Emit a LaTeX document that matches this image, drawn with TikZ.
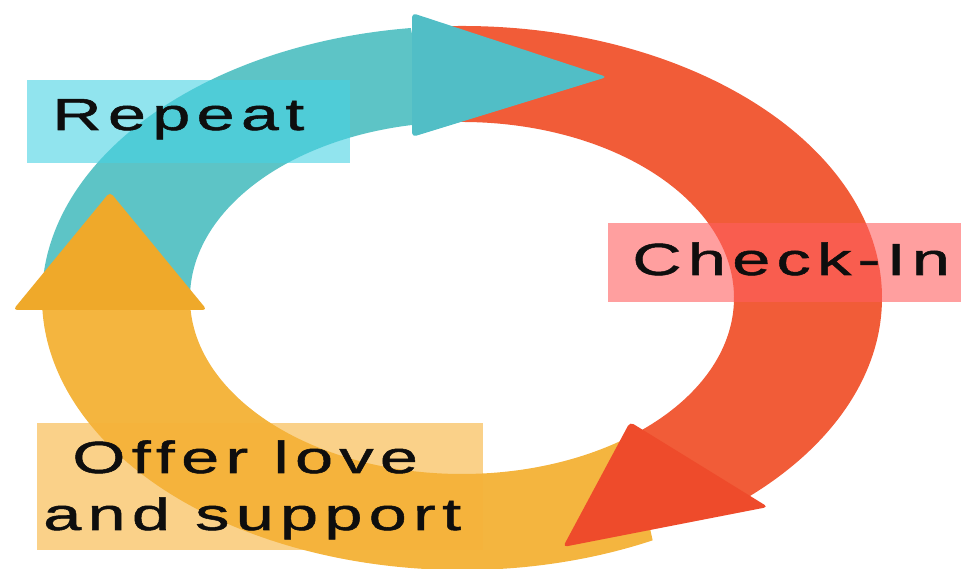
\documentclass[tikz,border=0pt]{standalone}
\usepackage{fontspec}
\newfontfamily\lblfont[FakeStretch=1.52,LetterSpace=14,FakeBold=1.2]{Liberation Sans}

\definecolor{tealbody}{HTML}{5DC4C6}
\definecolor{tealhead}{HTML}{51BEC6}
\definecolor{redbody}{HTML}{F15C38}
\definecolor{redhead}{HTML}{EE4B2B}
\definecolor{yelbody}{HTML}{F4B53F}
\definecolor{yelhead}{HTML}{EFA92A}
\definecolor{repeatbox}{RGB}{71,210,227}
\definecolor{checkbox}{RGB}{255,95,95}
\definecolor{offerbox}{RGB}{246,178,58}
\definecolor{inktext}{HTML}{0E0E0E}

\begin{document}
\begin{tikzpicture}[x=0.025cm,y=0.025cm,
  head/.style={rounded corners=3pt},
  labelbox/.style={fill opacity=0.6},
  labeltext/.style={inner sep=0pt,anchor=base west,text=inktext,
    font=\lblfont\fontsize{32}{38}\selectfont}]
\useasboundingbox (0,0) rectangle (961,569);

% ring geometry: centre and elliptical radii (outer / inner)
\coordinate (c) at (462,271);
\def\ox{420}\def\oy{272}\def\ix{272}\def\iy{176}

% ring bodies
\fill[tealbody] ([shift={(180:\ox*1 and \oy*1)}]c)
  arc[start angle=180,end angle=97,x radius=\ox,y radius=\oy]
  -- ([shift={(97:\ix*1 and \iy*1)}]c)
  arc[start angle=97,end angle=180,x radius=\ix,y radius=\iy] -- cycle;
\fill[redbody] ([shift={(92:\ox*1 and \oy*1)}]c)
  arc[start angle=92,end angle=-50,x radius=\ox,y radius=\oy]
  -- ([shift={(-50:\ix*1 and \iy*1)}]c)
  arc[start angle=-50,end angle=92,x radius=\ix,y radius=\iy] -- cycle;
\fill[yelbody] ([shift={(-63:\ox*1 and \oy*1)}]c)
  arc[start angle=-63,end angle=-180,x radius=\ox,y radius=\oy]
  -- ([shift={(-180:\ix*1 and \iy*1)}]c)
  arc[start angle=-180,end angle=-52,x radius=\ix,y radius=\iy] -- cycle;

% arrow heads
\fill[tealhead,head] (412,556) -- (607,492) -- (412,432) -- cycle;
\fill[redhead,head] (630,147) -- (768,62) -- (563,22) -- cycle;
\fill[yelhead,head] (13,259) -- (110,377) -- (207,259) -- cycle;

% translucent label boxes
\fill[repeatbox,labelbox] (27,406) rectangle (350,489);
\fill[checkbox,labelbox] (608,267) rectangle (961,346);
\fill[offerbox,labelbox] (37,19) rectangle (483,146);

% labels
\node[labeltext] (repeat) at (52,439) {Repeat};
\node[labeltext] (checkin) at (632,294) {Check-In};
\node[labeltext] (offer1) at (72,96) {Offer love};
\node[labeltext] (offer2) at (43,39) {and support};
\end{tikzpicture}
\end{document}
